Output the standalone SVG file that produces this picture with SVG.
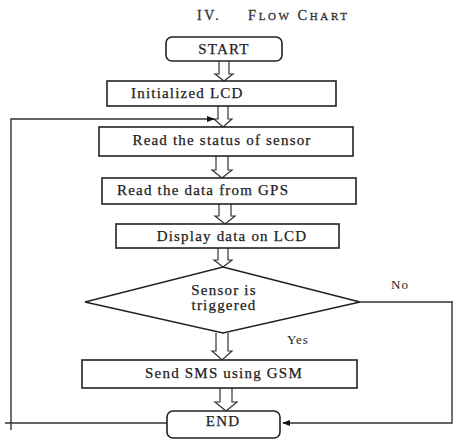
<svg xmlns="http://www.w3.org/2000/svg" width="453" height="439" viewBox="0 0 453 439">
<style>
.box{fill:#fff;stroke:#222;stroke-width:1.6}
.t{font-family:"Liberation Serif","Times New Roman",serif;font-size:15px;letter-spacing:1.2px;fill:#222;stroke:#222;stroke-width:0.25;text-anchor:middle}
.ts{text-anchor:start}
.arr{fill:#fff;stroke:#333;stroke-width:1.2}
.ln{fill:none;stroke:#333;stroke-width:1.4}
.lbl{font-family:"Liberation Serif","Times New Roman",serif;font-size:13px;letter-spacing:1px;fill:#222}
.ttl{font-family:"Liberation Serif","Times New Roman",serif;fill:#333;stroke:#333;stroke-width:0.3;letter-spacing:2.6px}
</style>
<defs>
<marker id="ah" viewBox="0 0 10 10" refX="9" refY="5" markerWidth="8" markerHeight="8" orient="auto" markerUnits="userSpaceOnUse">
<path d="M0,1 L10,5 L0,9 z" fill="#111"/>
</marker>
</defs>
<rect width="453" height="439" fill="#fff"/>
<text class="ttl" x="197" y="20" font-size="14">IV.</text>
<text class="ttl" x="248" y="20" font-size="14.5">F<tspan font-size="11">LOW</tspan><tspan dx="6">C</tspan><tspan font-size="11">HART</tspan></text>

<g id="connectors">
<path class="arr" d="M219,61 V74 H215 L224,81 L233,74 H229 V61"/>
<path class="arr" d="M218,106 V119 H214 L223,127 L232,119 H228 V106"/>
<path class="arr" d="M216,156 V170 H212 L222,178 L232,170 H228 V156"/>
<path class="arr" d="M219,204 V216 H215 L225,224 L235,216 H231 V204"/>
<path class="arr" d="M218,248 V260 H214 L223,267 L232,260 H228 V248"/>
<path class="arr" d="M216,333 V351 H212 L222,360 L232,351 H228 V333"/>
<path class="arr" d="M220,388 V402 H215 L226,411 L237,402 H232 V388"/>
<path class="ln" d="M360,302 H453 M452,302 V423 H283" marker-end="url(#ah)"/>
<path class="ln" d="M167,423 H5 M11,430 V119 H214" marker-end="url(#ah)"/>
<text class="lbl" x="391" y="289">No</text>
<text class="lbl" x="287" y="344">Yes</text>
</g>

<g id="start"><rect class="box" x="166" y="37" width="116" height="24" rx="6"/><text class="t" x="224" y="54">START</text></g>
<g id="init"><rect class="box" x="107" y="81" width="229" height="25"/><text class="t ts" x="131" y="98">Initialized LCD</text></g>
<g id="status"><rect class="box" x="99" y="127" width="254" height="29"/><text class="t" x="222" y="145">Read the status of sensor</text></g>
<g id="gps"><rect class="box" x="102" y="178" width="254" height="26"/><text class="t ts" x="117" y="195">Read the data from GPS</text></g>
<g id="display"><rect class="box" x="116" y="224" width="223" height="24"/><text class="t" x="232" y="241">Display data on LCD</text></g>
<g id="decision"><polygon class="box" points="223,267 360,302 223,333 85,302"/><text class="t" x="224" y="295">Sensor is</text><text class="t" x="224" y="310">triggered</text></g>
<g id="sms"><rect class="box" x="82" y="360" width="275" height="28"/><text class="t" x="224" y="378">Send SMS using GSM</text></g>
<g id="end"><rect class="box" x="167" y="411" width="113" height="27" rx="6"/><text class="t" x="223" y="426">END</text></g>
</svg>
